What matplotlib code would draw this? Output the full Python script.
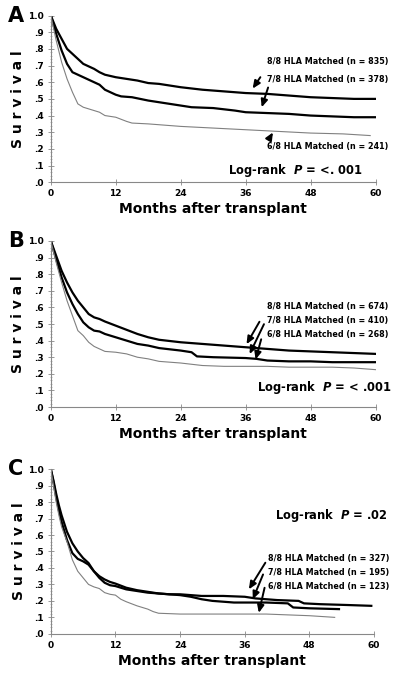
import matplotlib.pyplot as plt
import numpy as np

# Panel A
a_t88 = [0, 1, 2, 3, 4, 5, 6, 7, 8, 9, 10, 12, 14, 16, 18, 20, 24, 28, 30, 36, 40, 44, 48, 52, 56, 60]
a_s88 = [1.0, 0.92, 0.86, 0.80, 0.77, 0.74, 0.71, 0.695, 0.68, 0.66, 0.645, 0.63, 0.62, 0.61, 0.595, 0.59, 0.57, 0.555, 0.55, 0.535, 0.53, 0.52, 0.51, 0.505, 0.50, 0.50]
a_t78 = [0, 1, 2, 3, 4, 5, 6, 7, 8, 9, 10, 11, 12, 13, 15, 18, 20, 24, 26, 30, 34, 36, 40, 44, 48, 52, 56, 60]
a_s78 = [1.0, 0.89, 0.79, 0.71, 0.66, 0.645, 0.63, 0.615, 0.60, 0.585, 0.555, 0.54, 0.525, 0.515, 0.51, 0.49, 0.48, 0.46, 0.45, 0.445, 0.43, 0.42, 0.415, 0.41, 0.40, 0.395, 0.39, 0.39]
a_t68 = [0, 1, 2, 3, 4, 5, 6, 7, 8, 9, 10, 12, 14, 15, 18, 24, 30, 36, 42, 48, 54, 59]
a_s68 = [1.0, 0.85, 0.72, 0.62, 0.54, 0.47, 0.45, 0.44, 0.43, 0.42, 0.40, 0.39, 0.365, 0.355, 0.35, 0.335, 0.325, 0.315, 0.305, 0.295, 0.29, 0.28]

# Panel B
b_t88 = [0, 1, 2, 3, 4, 5, 6, 7, 8, 9, 10, 12, 14, 16, 18, 20, 24, 28, 32, 36, 40, 44, 48, 52, 56, 60]
b_s88 = [1.0, 0.91, 0.82, 0.75, 0.69, 0.64, 0.60, 0.56, 0.54, 0.53, 0.515, 0.49, 0.465, 0.44, 0.42, 0.405, 0.39, 0.38, 0.37, 0.36, 0.35, 0.34, 0.335, 0.33, 0.325, 0.32]
b_t78 = [0, 1, 2, 3, 4, 5, 6, 7, 8, 9, 10, 12, 14, 16, 18, 20, 24, 26, 27, 30, 36, 38, 40, 44, 48, 52, 56, 60]
b_s78 = [1.0, 0.89, 0.78, 0.69, 0.62, 0.56, 0.51, 0.48, 0.46, 0.455, 0.44, 0.42, 0.40, 0.38, 0.37, 0.355, 0.34, 0.33, 0.305, 0.30, 0.295, 0.29, 0.28, 0.275, 0.275, 0.27, 0.27, 0.27]
b_t68 = [0, 1, 2, 3, 4, 5, 6, 7, 8, 9, 10, 12, 14, 16, 18, 20, 24, 28, 32, 36, 40, 44, 48, 52, 56, 60]
b_s68 = [1.0, 0.87, 0.75, 0.64, 0.55, 0.46, 0.43, 0.39, 0.365, 0.35, 0.335, 0.33, 0.32, 0.30, 0.29, 0.275, 0.265, 0.25, 0.245, 0.245, 0.245, 0.24, 0.24, 0.24, 0.235, 0.225]

# Panel C
c_t88 = [0, 0.5, 1, 1.5, 2, 3, 4, 5, 6, 7, 8, 9, 10, 11, 12, 14, 16, 18, 20, 22, 24, 28, 32, 36, 38, 42, 46, 47, 50, 55, 59.5]
c_s88 = [1.0, 0.93, 0.85, 0.78, 0.72, 0.62, 0.55, 0.50, 0.46, 0.43, 0.38, 0.35, 0.33, 0.315, 0.305, 0.28, 0.265, 0.255, 0.245, 0.24, 0.24, 0.23, 0.23, 0.225, 0.215, 0.205, 0.20, 0.185, 0.18, 0.175, 0.17]
c_t78 = [0, 0.5, 1, 1.5, 2, 3, 4, 5, 6, 7, 8, 9, 10, 11, 12, 14, 16, 18, 20, 24, 26, 28, 30, 34, 40, 44, 45, 48, 53.5]
c_s78 = [1.0, 0.92, 0.83, 0.75, 0.68, 0.57, 0.49, 0.455, 0.44, 0.42, 0.38, 0.34, 0.31, 0.295, 0.29, 0.27, 0.26, 0.25, 0.245, 0.235, 0.225, 0.21, 0.20, 0.19, 0.19, 0.185, 0.16, 0.155, 0.15]
c_t68 = [0, 0.5, 1, 1.5, 2, 3, 4, 5, 6, 7, 8, 9, 10, 11, 12, 13, 14, 16, 18, 19, 20, 24, 30, 36, 40, 44, 48, 52.7]
c_s68 = [1.0, 0.90, 0.80, 0.72, 0.65, 0.56, 0.45, 0.38, 0.34, 0.30, 0.285, 0.275, 0.25, 0.24, 0.235, 0.21, 0.195, 0.17, 0.15, 0.135, 0.125, 0.12, 0.12, 0.12, 0.12, 0.115, 0.11, 0.10]

n_a = [835, 378, 241]
n_b = [674, 410, 268]
n_c = [327, 195, 123]
pvals = ['<. 001', '< .001', '.02']
groups = ['8/8', '7/8', '6/8']

fig = plt.figure(figsize=(4, 6.75), dpi=100)
plt.rcParams['font.family'] = 'DejaVu Sans'

boxes = [[0.127, 0.730, 0.812, 0.247],
         [0.127, 0.397, 0.812, 0.246],
         [0.127, 0.061, 0.808, 0.244]]

panels = [
    ('A', [(a_t88, a_s88), (a_t78, a_s78), (a_t68, a_s68)], n_a, pvals[0]),
    ('B', [(b_t88, b_s88), (b_t78, b_s78), (b_t68, b_s68)], n_b, pvals[1]),
    ('C', [(c_t88, c_s88), (c_t78, c_s78), (c_t68, c_s68)], n_c, pvals[2]),
]

# label / arrow placement per panel: (text y, arrow tail, arrow head)
labels_pos = {
    'A': [(0.722, (39.0, 0.644), (37.0, 0.548)),
          (0.614, (40.3, 0.584), (38.8, 0.434)),
          (0.212, (40.2, 0.253), (41.3, 0.313))],
    'B': [(0.608, (38.8, 0.528), (35.9, 0.364)),
          (0.520, (39.6, 0.514), (36.5, 0.304)),
          (0.438, (39.0, 0.424), (37.7, 0.270))],
    'C': [(0.457, (40.1, 0.446), (36.5, 0.256)),
          (0.370, (39.6, 0.376), (37.3, 0.194)),
          (0.285, (39.8, 0.296), (38.5, 0.111))],
}
logrank_pos = {'A': (32.8, 0.073), 'B': (38.1, 0.118), 'C': (41.6, 0.72)}
text_x = {'A': 39.9, 'B': 39.9, 'C': 40.4}

for box, (letter, curves, ns, p) in zip(boxes, panels):
    ax = fig.add_axes(box)
    styles = [dict(color='black', lw=1.6), dict(color='black', lw=1.6), dict(color='#808080', lw=0.8)]
    for (t, s), st in zip(curves, styles):
        ax.plot(t, s, **st)
    ax.set_xlim(0, 60)
    ax.set_ylim(0, 1.0)
    ax.set_xticks(np.arange(0, 61, 12))
    ax.set_yticks(np.arange(0, 1.01, 0.1))
    ax.set_yticks(np.arange(0, 1.01, 0.02), minor=True)
    ax.set_yticklabels(['.0', '.1', '.2', '.3', '.4', '.5', '.6', '.7', '.8', '.9', '1.0'])
    ax.spines['top'].set_visible(False)
    ax.spines['right'].set_visible(False)
    ax.spines['left'].set_color('#888888')
    ax.spines['bottom'].set_color('#888888')
    ax.tick_params(axis='both', which='major', direction='inout', length=4, width=0.6,
                   color='#888888', labelsize=6.5, pad=3)
    ax.tick_params(axis='y', which='minor', direction='inout', length=2, width=0.4, color='#888888')
    for lab in ax.get_xticklabels() + ax.get_yticklabels():
        lab.set_fontweight('bold')
    ax.set_xlabel('Months after transplant', fontsize=10, fontweight='bold', labelpad=3)
    ax.set_ylabel('S u r v i v a l', fontsize=10, fontweight='bold')
    ax.yaxis.set_label_coords(-0.078, 0.5)

    fig.text(0.02, box[1] + box[3], letter, fontsize=15, fontweight='bold', va='center')

    for g, n, (ty, tail, head) in zip(groups, ns, labels_pos[letter]):
        ax.text(text_x[letter], ty, f'{g} HLA Matched (n = {n})', fontsize=5.8,
                fontweight='bold', va='center', ha='left')
        ax.annotate('', xy=head, xytext=tail,
                    arrowprops=dict(arrowstyle='-|>,head_length=0.45,head_width=0.2',
                                    color='black', lw=1.4))
    lx, ly = logrank_pos[letter]
    ax.text(lx, ly, r'Log-rank  $\boldsymbol{P}$ = ' + p, fontsize=8.3, fontweight='bold',
            va='center', ha='left')

fig.savefig('out.png', dpi=100)
